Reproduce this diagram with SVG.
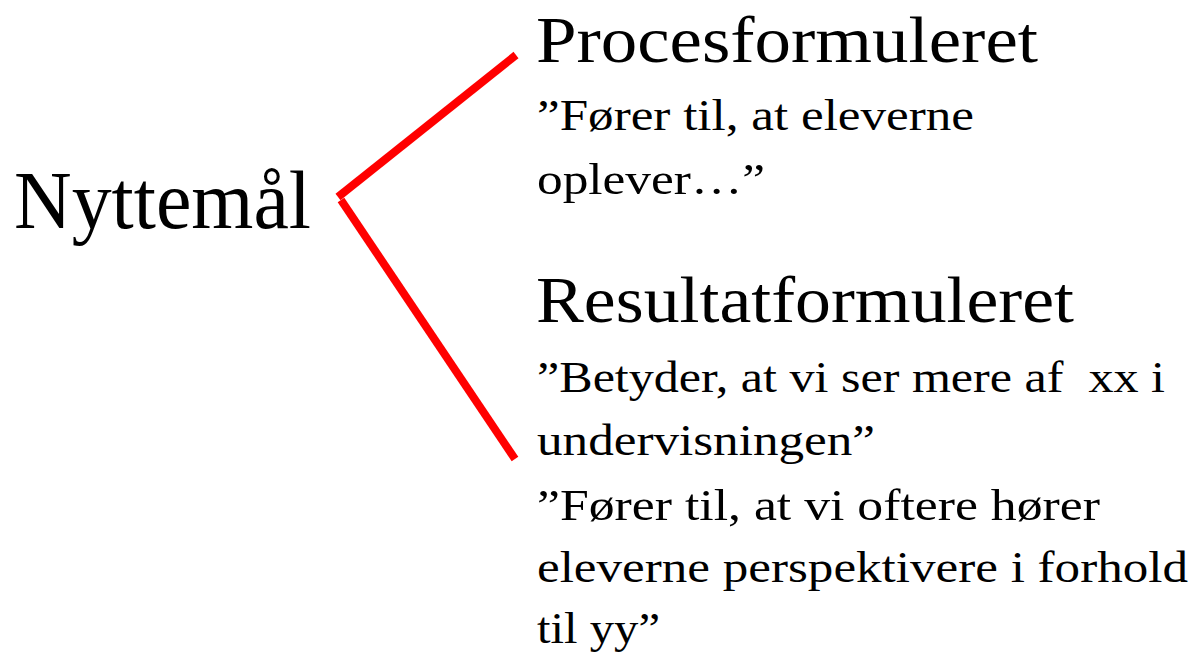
<svg xmlns="http://www.w3.org/2000/svg" width="1195" height="660" viewBox="0 0 1195 660">
  <style>
    .t { font-family: "Liberation Serif", "DejaVu Serif", serif; fill: #000; }
    .root { font-size: 83px; }
    .head { font-size: 66px; }
    .body { font-size: 45px; }
    .conn { stroke: #ff0000; stroke-width: 8; fill: none; stroke-linecap: butt; }
  </style>
  <rect x="0" y="0" width="1195" height="660" fill="#ffffff"/>
  <g id="connectors">
    <line class="conn" x1="516" y1="55" x2="338" y2="197"/>
    <line class="conn" x1="341" y1="200" x2="515" y2="459"/>
  </g>
  <g id="node-nyttemaal">
    <text class="t root" x="14" y="228" textLength="297" lengthAdjust="spacingAndGlyphs">Nyttemål</text>
  </g>
  <g id="node-procesformuleret">
    <text class="t head" x="536" y="62" textLength="502" lengthAdjust="spacingAndGlyphs">Procesformuleret</text>
    <text class="t body" x="537" y="130" textLength="437" lengthAdjust="spacingAndGlyphs">”Fører til, at eleverne</text>
    <text class="t body" x="537" y="194" textLength="228" lengthAdjust="spacingAndGlyphs">oplever…”</text>
  </g>
  <g id="node-resultatformuleret">
    <text class="t head" x="536" y="322" textLength="538" lengthAdjust="spacingAndGlyphs">Resultatformuleret</text>
    <text class="t body" x="537" y="392" textLength="628" lengthAdjust="spacingAndGlyphs" xml:space="preserve">”Betyder, at vi ser mere af  xx i</text>
    <text class="t body" x="537" y="455" textLength="338" lengthAdjust="spacingAndGlyphs">undervisningen”</text>
    <text class="t body" x="537" y="520" textLength="563" lengthAdjust="spacingAndGlyphs">”Fører til, at vi oftere hører</text>
    <text class="t body" x="537" y="582" textLength="651" lengthAdjust="spacingAndGlyphs">eleverne perspektivere i forhold</text>
    <text class="t body" x="537" y="643" textLength="123" lengthAdjust="spacingAndGlyphs">til yy”</text>
  </g>
</svg>
